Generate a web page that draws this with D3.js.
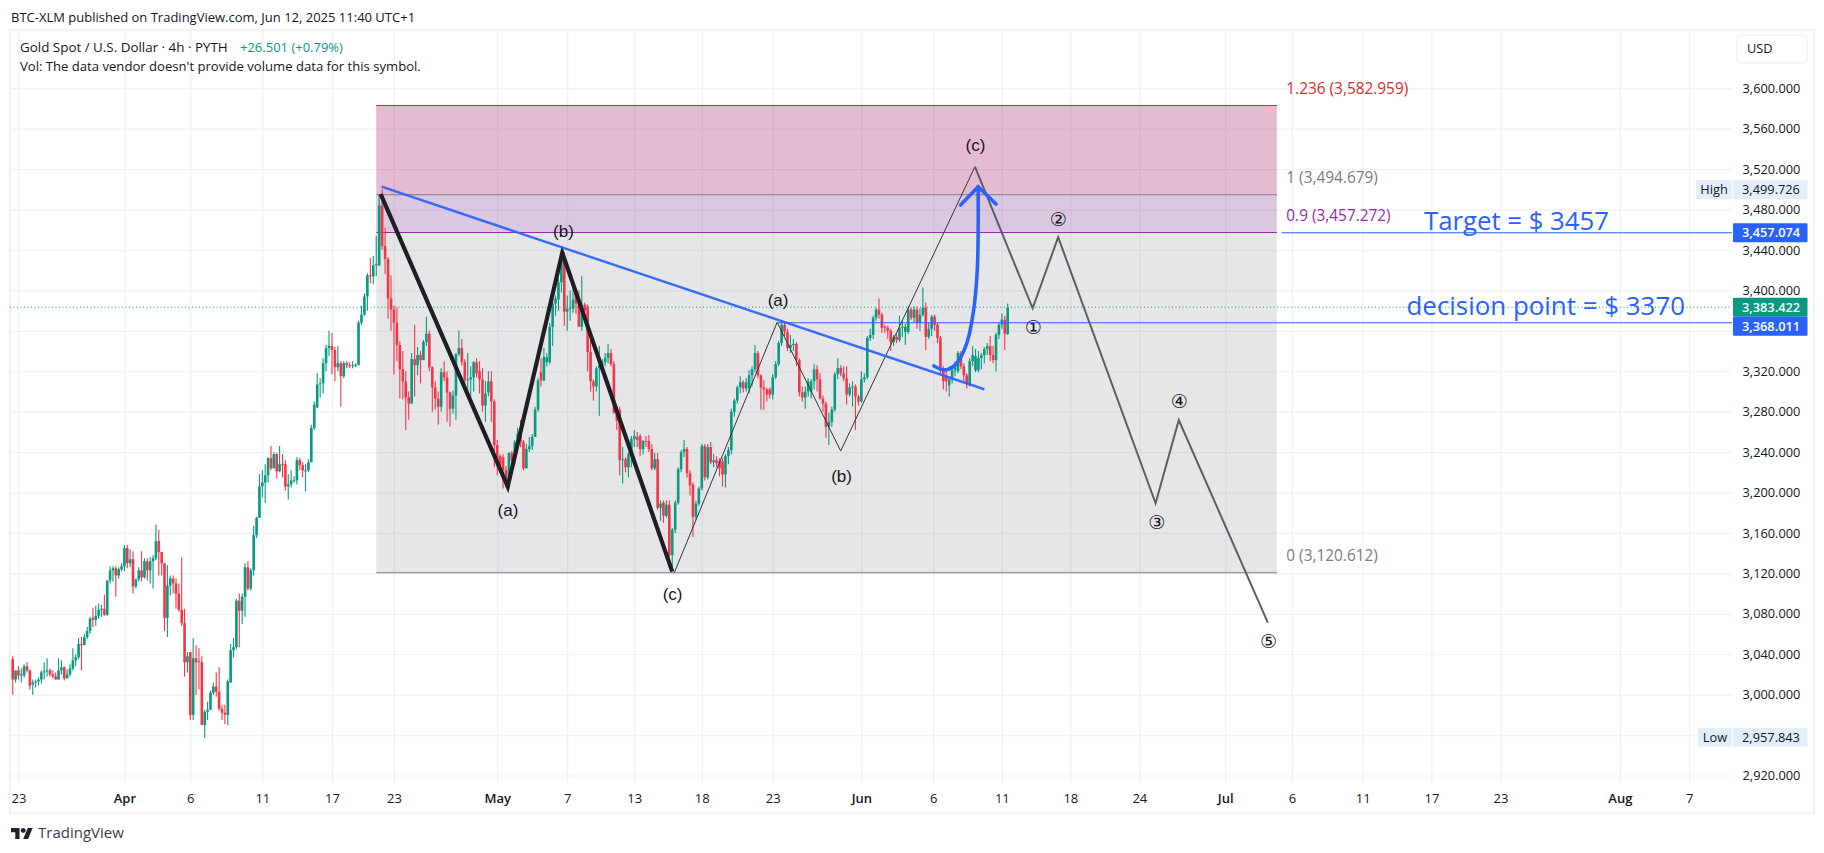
<!DOCTYPE html>
<html><head><meta charset="utf-8">
<script src="https://cdnjs.cloudflare.com/ajax/libs/d3/7.9.0/d3.min.js"></script>
<style>html,body{margin:0;padding:0;background:#fff;overflow:hidden}svg{display:block}text{font-family:"Open Sans",sans-serif}</style>
</head><body><svg id="c" width="1824" height="853"></svg>
<script>
const opens=[3035,3015,3024,3019,3019,3028,3024,3010,3012,3013,3015,3022,3023,3024,3020,3018,3015,3024,3027,3016,3020,3026,3034,3037,3050,3049,3057,3063,3076,3074,3078,3084,3085,3079,3113,3123,3125,3118,3124,3127,3145,3130,3134,3107,3114,3123,3116,3132,3123,3132,3135,3152,3141,3130,3076,3108,3115,3110,3100,3084,3071,3032,3042,2980,3036,3033,3032,2970,2983,2985,3002,3008,3003,2986,2982,2980,3012,3044,3047,3093,3083,3097,3126,3105,3123,3158,3175,3206,3210,3217,3234,3224,3238,3221,3228,3228,3206,3208,3212,3212,3232,3227,3222,3222,3230,3264,3284,3307,3308,3328,3343,3345,3341,3324,3328,3315,3328,3326,3325,3326,3326,3368,3376,3394,3415,3414,3425,3425,3484,3444,3431,3392,3381,3368,3346,3322,3310,3294,3288,3332,3326,3336,3331,3349,3357,3324,3304,3293,3285,3319,3314,3299,3283,3296,3337,3343,3329,3311,3312,3314,3329,3320,3312,3286,3299,3310,3290,3247,3236,3235,3222,3211,3239,3231,3250,3258,3250,3224,3243,3246,3255,3282,3319,3311,3329,3329,3364,3387,3391,3408,3432,3379,3382,3382,3397,3387,3364,3386,3384,3339,3310,3305,3323,3326,3329,3333,3338,3327,3279,3282,3232,3233,3225,3238,3253,3255,3256,3243,3251,3251,3243,3224,3233,3185,3190,3177,3188,3138,3163,3190,3223,3240,3243,3219,3208,3176,3189,3204,3246,3215,3245,3230,3232,3231,3231,3218,3236,3242,3280,3291,3304,3309,3303,3303,3316,3322,3338,3316,3304,3302,3302,3297,3314,3327,3348,3366,3359,3343,3346,3347,3331,3299,3294,3300,3300,3310,3322,3312,3293,3288,3265,3270,3282,3317,3323,3318,3313,3297,3304,3305,3295,3290,3312,3314,3353,3356,3373,3381,3376,3364,3363,3360,3349,3354,3351,3363,3359,3359,3381,3373,3381,3368,3376,3383,3354,3362,3374,3366,3353,3323,3316,3306,3312,3321,3320,3338,3325,3316,3307,3330,3321,3321,3333,3336,3342,3345,3336,3331,3356,3366,3371,3357];
const closes=[3015,3024,3019,3020,3028,3024,3009,3012,3013,3015,3022,3023,3024,3020,3018,3015,3024,3027,3016,3020,3026,3034,3037,3050,3049,3057,3063,3075,3074,3078,3084,3085,3079,3113,3123,3125,3118,3124,3127,3145,3130,3134,3107,3114,3123,3116,3132,3123,3132,3135,3152,3141,3130,3076,3108,3115,3110,3100,3084,3071,3032,3038,2980,3036,3032,3032,2970,2983,2985,3002,3008,3003,2986,2982,2980,3013,3044,3047,3093,3083,3097,3126,3105,3123,3158,3175,3206,3210,3217,3234,3224,3238,3221,3228,3227,3206,3208,3212,3212,3232,3227,3222,3222,3230,3264,3287,3307,3308,3328,3343,3345,3341,3324,3328,3315,3328,3326,3325,3326,3326,3368,3376,3394,3415,3414,3425,3426,3484,3444,3431,3392,3381,3368,3346,3322,3310,3294,3288,3332,3326,3336,3331,3349,3357,3324,3304,3293,3285,3319,3314,3299,3283,3296,3337,3343,3329,3311,3312,3314,3329,3318,3312,3286,3298,3310,3290,3247,3227,3227,3222,3211,3239,3231,3250,3258,3250,3224,3243,3246,3255,3282,3311,3311,3334,3334,3364,3387,3392,3408,3435,3379,3382,3383,3391,3387,3364,3382,3380,3339,3310,3305,3323,3326,3329,3333,3338,3327,3279,3271,3232,3233,3225,3238,3253,3256,3252,3243,3251,3250,3243,3224,3233,3185,3189,3177,3188,3138,3163,3190,3223,3240,3243,3219,3207,3176,3189,3204,3246,3215,3245,3230,3232,3229,3224,3218,3236,3242,3280,3291,3304,3309,3303,3309,3316,3322,3338,3316,3304,3302,3297,3297,3314,3327,3348,3366,3359,3343,3346,3347,3331,3299,3294,3300,3310,3310,3322,3312,3293,3288,3265,3270,3282,3317,3323,3318,3313,3297,3304,3305,3295,3290,3312,3314,3353,3356,3373,3381,3376,3363,3363,3360,3349,3354,3351,3363,3364,3364,3381,3373,3381,3368,3376,3383,3354,3362,3374,3366,3353,3323,3310,3310,3312,3321,3324,3338,3325,3316,3307,3330,3336,3335,3333,3336,3342,3345,3336,3331,3356,3366,3371,3357,3383];
const highs=[3038,3024,3028,3026,3030,3032,3025,3015,3015,3017,3024,3032,3036,3026,3024,3022,3036,3034,3028,3025,3030,3046,3040,3056,3057,3060,3067,3077,3086,3088,3090,3089,3099,3113,3127,3127,3127,3126,3130,3148,3148,3144,3142,3115,3126,3142,3135,3135,3136,3138,3168,3163,3141,3130,3128,3118,3118,3115,3110,3136,3085,3042,3042,3056,3049,3046,3038,2985,2993,3004,3012,3022,3027,2990,2990,3015,3050,3056,3095,3100,3100,3130,3132,3125,3167,3176,3218,3222,3228,3235,3246,3240,3239,3246,3238,3232,3218,3222,3216,3235,3234,3230,3228,3233,3267,3290,3318,3313,3333,3346,3360,3358,3344,3345,3330,3330,3330,3329,3330,3328,3370,3385,3397,3417,3432,3434,3454,3495,3500,3462,3433,3415,3385,3383,3350,3340,3320,3300,3338,3366,3344,3340,3351,3374,3360,3325,3310,3300,3323,3330,3320,3300,3301,3338,3360,3352,3332,3338,3325,3330,3333,3330,3323,3310,3320,3320,3292,3252,3238,3238,3226,3240,3241,3252,3264,3272,3252,3248,3255,3258,3285,3313,3333,3343,3338,3368,3392,3395,3412,3438,3438,3395,3400,3405,3400,3400,3414,3388,3386,3357,3312,3325,3345,3332,3338,3347,3342,3330,3282,3285,3245,3235,3240,3256,3262,3260,3258,3252,3256,3257,3248,3239,3239,3192,3192,3192,3192,3165,3192,3225,3242,3252,3245,3222,3210,3192,3206,3248,3248,3248,3250,3238,3236,3234,3234,3238,3245,3283,3293,3306,3315,3311,3313,3321,3325,3346,3340,3317,3311,3304,3304,3317,3330,3350,3370,3368,3362,3356,3352,3349,3333,3305,3305,3313,3312,3327,3326,3318,3296,3290,3279,3285,3319,3333,3326,3325,3325,3308,3310,3307,3297,3320,3318,3355,3362,3375,3383,3392,3378,3366,3365,3362,3356,3357,3375,3370,3367,3384,3383,3384,3384,3382,3403,3388,3368,3376,3376,3368,3355,3325,3320,3314,3323,3330,3340,3340,3328,3318,3333,3345,3342,3340,3338,3344,3348,3355,3345,3358,3368,3377,3375,3387];
const lows=[3000,3012,3015,3012,3017,3022,3005,3000,3007,3009,3011,3015,3018,3018,3016,3015,3015,3020,3014,3016,3018,3024,3028,3035,3024,3049,3055,3060,3067,3068,3075,3077,3078,3078,3110,3112,3097,3115,3122,3122,3125,3126,3100,3105,3112,3112,3115,3113,3110,3105,3133,3118,3118,3063,3057,3098,3100,3085,3082,3068,3018,3022,2975,2975,3000,3005,2970,2957,2975,2985,3000,2998,2984,2975,2971,2970,3012,3037,3045,3047,3070,3077,3103,3103,3118,3155,3175,3195,3190,3210,3222,3224,3214,3220,3215,3202,3193,3205,3210,3208,3222,3215,3201,3220,3230,3262,3284,3294,3298,3320,3335,3317,3310,3320,3285,3313,3323,3323,3323,3324,3326,3366,3375,3380,3407,3406,3414,3424,3440,3416,3372,3360,3317,3330,3293,3292,3262,3272,3288,3295,3316,3308,3331,3345,3320,3280,3282,3267,3280,3310,3270,3265,3278,3272,3335,3326,3305,3300,3295,3300,3314,3298,3280,3270,3295,3270,3225,3217,3220,3204,3205,3204,3228,3228,3248,3245,3222,3224,3240,3242,3255,3280,3305,3310,3325,3327,3345,3375,3380,3398,3365,3360,3370,3378,3377,3364,3360,3372,3320,3300,3291,3300,3276,3320,3325,3328,3325,3278,3262,3217,3209,3220,3215,3225,3245,3245,3236,3238,3245,3240,3222,3222,3183,3172,3170,3175,3136,3123,3160,3188,3220,3235,3215,3197,3156,3173,3187,3202,3212,3213,3228,3225,3225,3216,3206,3205,3228,3238,3275,3288,3298,3299,3300,3298,3305,3319,3313,3282,3282,3290,3293,3292,3312,3325,3345,3355,3340,3338,3340,3325,3295,3290,3283,3295,3293,3302,3300,3292,3280,3254,3247,3265,3280,3312,3315,3310,3287,3295,3285,3262,3286,3289,3309,3312,3350,3352,3370,3372,3358,3358,3352,3340,3345,3348,3349,3354,3346,3357,3371,3368,3362,3360,3374,3341,3352,3355,3360,3348,3318,3302,3300,3295,3308,3315,3318,3322,3310,3303,3305,3325,3319,3319,3322,3328,3336,3330,3328,3320,3352,3362,3341,3356];

const timeLabels=["23","Apr","6","11","17","23","May","7","13","18","23","Jun","6","11","18","24","Jul","6","11","17","23","Aug","7"];
const timeBars=[2,39,62,87,111,132,167,191,214,237,261,291,315.5,339,362.6,386.4,416,439,463.4,487.1,510.9,552.1,576];
const priceTicks=[3600,3560,3520,3480,3440,3400,3360,3320,3280,3240,3200,3160,3120,3080,3040,3000,2960,2920];
const hiddenPriceLabels=[3360,2960];

const fibPrices=[3582.959,3494.679,3457.272,3120.612];
const fibLevels=["1.236","1","0.9","0"];
const fibBars=[126,433.8];
const waveABars=[127.5,170.6,189.3,227],waveAPrices=[3495.4,3205.8,3437.3,3121.7];
const waveBBars=[227.7,262.5,284,329.8],waveBPrices=[3120.7,3368.5,3241.1,3522.4];
const waveCBars=[329.8,349.6,358.4,392,400,430.7],waveCPrices=[3522.4,3382.3,3452.6,3189.3,3271.8,3071.2];
const trendBars=[127.8,333],trendPrices=[3502.6,3302.2];
const curveBars=[315.8,319.6,323.6,327,329.2,330.6,330.9],curvePrices=[3325.2,3321.3,3327.9,3347.7,3377.4,3420.2,3502.6];
const headBars=[324.9,330.9,337],headPrices=[3484.5,3502.6,3485.5];
const waveLabels=["(a)","(b)","(c)","(a)","(b)","(c)","①","②","③","④","⑤"];
const waveLabelBars=[170.7,189.7,227.1,262.8,284.3,330,349.8,358.4,392.4,400.2,430.9];
const waveLabelPrices=[3182.7,3458.8,3100,3390.5,3216.4,3543.9,3363.5,3470,3170.2,3289.9,3052.4];
const lastPrice=3383.422,decisionPrice=3368.011,targetPrice=3457.074,highPrice=3499.726,lowPrice=2957.843;

const UP="#089981",DOWN="#f23645",BLUE="#2962ff",INK="#131722";
const svg=d3.select("#c");
const L=10,R=1732,T=30,B=783;
const x=d3.scaleLinear().domain([0,62,104,166,226,293,341,600]).range([12.7,190.3,311.3,494.3,669.3,867.3,1007.7,1758.8]);
const y=d3.scaleLinear().domain([3600,2920]).range([88.3,775.5]);
const fmt=d3.format(",.3f");

/* frame */
svg.append("rect").attr("x",L).attr("y",T).attr("width",1814-L).attr("height",813-T).attr("fill","#fff").attr("stroke","#f2f3f6").attr("stroke-width",2.4);

/* grid via axes */
const gridX=svg.append("g").attr("transform",`translate(0,${B})`).call(d3.axisBottom(x).tickValues(timeBars).tickSize(-(B-T)).tickFormat(""));
const gridY=svg.append("g").attr("transform",`translate(${L},0)`).call(d3.axisRight(y).tickValues(priceTicks).tickSize(R-L).tickFormat(""));
[gridX,gridY].forEach(g=>{g.select(".domain").remove();g.selectAll("line").attr("stroke","#f0f1f4").attr("stroke-width",1.2);});

/* fib zones */
const fx0=x(fibBars[0]),fx1=x(fibBars[1]);
const fibFill=["rgba(172,25,102,.30)","rgba(115,31,131,.25)","rgba(122,122,139,.19)"];
fibFill.forEach((f,i)=>svg.append("rect").attr("x",fx0).attr("width",fx1-fx0).attr("y",y(fibPrices[i])).attr("height",y(fibPrices[i+1])-y(fibPrices[i])).attr("fill",f));
const fibLine=["#cc2f3c","#787b86","#9c27b0","#787b86"];
const fibText=["#d32f2f","#787b86","#9c27b0","#787b86"];
fibPrices.forEach((p,i)=>{
 svg.append("line").attr("x1",fx0).attr("x2",fx1).attr("y1",y(p)).attr("y2",y(p)).attr("stroke",fibLine[i]).attr("stroke-width",1.1);
 svg.append("text").attr("x",fx1+9.5).attr("y",y(p)-17).attr("dy","0.35em").attr("fill",fibText[i]).attr("font-size",15.4).text(`${fibLevels[i]} (${fmt(p)})`);
});

/* last price dotted */
svg.append("line").attr("x1",L).attr("x2",R).attr("y1",y(lastPrice)).attr("y2",y(lastPrice)).attr("stroke",UP).attr("stroke-width",1).attr("stroke-dasharray","1 2.5");

/* candles */
const idx=d3.range(opens.length);
svg.append("g").selectAll("line").data(idx).join("line")
 .attr("x1",i=>x(i)).attr("x2",i=>x(i)).attr("y1",i=>y(highs[i])).attr("y2",i=>y(lows[i]))
 .attr("stroke",i=>closes[i]>=opens[i]?UP:DOWN).attr("stroke-width",1.1);
svg.append("g").selectAll("rect").data(idx).join("rect")
 .attr("x",i=>x(i)-1.3).attr("width",2.6)
 .attr("y",i=>y(Math.max(opens[i],closes[i])))
 .attr("height",i=>Math.max(1,Math.abs(y(opens[i])-y(closes[i]))))
 .attr("fill",i=>closes[i]>=opens[i]?UP:DOWN);

/* drawings */
const path=(bars,prices,curve)=>d3.line().x((d,i)=>x(bars[i])).y((d,i)=>y(prices[i])).curve(curve||d3.curveLinear)(bars);
const stroke=(d,c,w)=>svg.append("path").attr("d",d).attr("fill","none").attr("stroke",c).attr("stroke-width",w).attr("stroke-linejoin","miter");
svg.append("line").attr("x1",x(262.7)).attr("x2",R).attr("y1",y(decisionPrice)).attr("y2",y(decisionPrice)).attr("stroke",BLUE).attr("stroke-width",1.1);
svg.append("line").attr("x1",x(435.4)).attr("x2",R).attr("y1",y(targetPrice)).attr("y2",y(targetPrice)).attr("stroke",BLUE).attr("stroke-width",1.1);
stroke(path(waveABars,waveAPrices),"#1f1e24",4.2);
stroke(path(waveBBars,waveBPrices),"#33333a",1);
stroke(path(waveCBars,waveCPrices),"#5d5e63",2);
stroke(path(trendBars,trendPrices),BLUE,2.4).attr("opacity",.92);
stroke(path(curveBars,curvePrices,d3.curveCatmullRom),BLUE,3.6).attr("stroke-linecap","round");
stroke(path(headBars,headPrices),BLUE,3.6).attr("stroke-linecap","round");

waveLabels.forEach((t,i)=>{
 const circ=i>=6;
 svg.append("text").attr("x",x(waveLabelBars[i])).attr("y",y(waveLabelPrices[i])).attr("dy","0.35em").attr("text-anchor","middle")
  .attr("fill",INK).attr("font-size",circ?19:17).style("font-family",circ?'"DejaVu Sans"':'"Liberation Sans"').text(t);
});

/* big notes */
const note=(t,xp,yp,w)=>svg.append("text").attr("x",xp).attr("y",yp).attr("dy","0.35em").attr("fill",BLUE).attr("font-size",26).attr("textLength",w).attr("lengthAdjust","spacingAndGlyphs").text(t);
note("Target = $ 3457",1424,221,185);
note("decision point = $ 3370",1406.5,306,278.5);

/* price axis */
const ax=svg.append("g").attr("transform",`translate(${R},0)`).call(d3.axisRight(y).tickValues(priceTicks).tickSize(0).tickPadding(10.5).tickFormat(d=>hiddenPriceLabels.includes(d)?"":fmt(d)));
ax.select(".domain").remove();
ax.selectAll("text").attr("fill",INK).attr("font-size",12.8).style("font-family",'"Open Sans"');

/* time axis */
const at=svg.append("g").attr("transform",`translate(0,${B})`).call(d3.axisBottom(x).tickValues(timeBars).tickSize(0).tickPadding(11).tickFormat((d,i)=>timeLabels[i]));
at.select(".domain").remove();
at.selectAll("text").attr("fill",INK).attr("font-size",13).style("font-family",'"Open Sans"').attr("font-weight",(d,i)=>/[A-Z]/.test(timeLabels[i])?600:400);

/* price badges */
const badge=(val,yc,bg,fg)=>{
 svg.append("rect").attr("x",R+1).attr("y",yc-9.5).attr("width",74.5).attr("height",19).attr("rx",1).attr("fill",bg);
 svg.append("text").attr("x",R+39).attr("y",yc).attr("dy","0.35em").attr("text-anchor","middle").attr("fill",fg).attr("font-size",12.8).attr("font-weight",fg==="#fff"?600:400).text(fmt(val));
};
const tag=(t,yc,w)=>{
 svg.append("rect").attr("x",R-w).attr("y",yc-9.5).attr("width",w).attr("height",19).attr("fill","#e3eefb");
 svg.append("text").attr("x",R-w/2).attr("y",yc).attr("dy","0.35em").attr("text-anchor","middle").attr("fill",INK).attr("font-size",12.8).text(t);
};
badge(highPrice,y(highPrice),"#e3eefb",INK); tag("High",y(highPrice),36);
badge(lowPrice,y(lowPrice),"#e3eefb",INK); tag("Low",y(lowPrice),34);
badge(targetPrice,y(targetPrice),BLUE,"#fff");
badge(lastPrice,y(lastPrice),UP,"#fff");
badge(decisionPrice,y(decisionPrice)+3.5,BLUE,"#fff");

/* USD button */
svg.append("rect").attr("x",1737).attr("y",35).attr("width",70).attr("height",28).attr("rx",4).attr("fill","#fff").attr("stroke","#eceef2").attr("stroke-width",1.2);
svg.append("text").attr("x",1747).attr("y",49).attr("dy","0.35em").attr("fill",INK).attr("font-size",12.8).text("USD");

/* header text */
svg.append("text").attr("x",11).attr("y",17.5).attr("dy","0.35em").attr("fill",INK).attr("font-size",13).text("BTC-XLM published on TradingView.com, Jun 12, 2025 11:40 UTC+1");
svg.append("text").attr("x",20).attr("y",47).attr("dy","0.35em").attr("fill",INK).attr("font-size",13.4).text("Gold Spot / U.S. Dollar · 4h · PYTH");
svg.append("text").attr("x",240).attr("y",47).attr("dy","0.35em").attr("fill",UP).attr("font-size",13).text("+26.501 (+0.79%)");
svg.append("text").attr("x",20).attr("y",66.3).attr("dy","0.35em").attr("fill",INK).attr("font-size",13.1).text("Vol: The data vendor doesn't provide volume data for this symbol.");

/* logo */
const lg=svg.append("g").attr("transform","translate(11,825.5) scale(0.61)").attr("fill","#1e222d");
lg.append("path").attr("d","M14 22H7V11H0V4h14v18zM28 22h-8l7.5-18h8L28 22z");
lg.append("circle").attr("cx",20).attr("cy",8).attr("r",4);
svg.append("text").attr("x",38).attr("y",833).attr("dy","0.35em").attr("fill","#3a3e4a").attr("font-size",15).text("TradingView");
</script></body></html>
